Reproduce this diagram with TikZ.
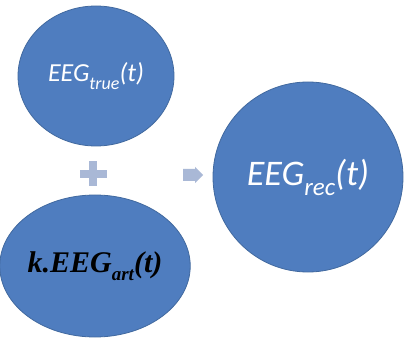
\documentclass[tikz,border=0pt]{standalone}
\usepackage{fontspec}
\usetikzlibrary{shapes.geometric}
\newfontfamily\calfont{Carlito}
\newfontfamily\tmsfont{Liberation Serif}
\definecolor{blobblue}{HTML}{4F7DBF}
\definecolor{blobedge}{HTML}{41699F}
\definecolor{signgrey}{HTML}{A9B8D6}
\tikzset{
  blob/.style={ellipse, fill=blobblue, draw=blobedge, line width=0.8pt, inner sep=0pt},
  signfill/.style={fill=signgrey, draw=none}
}
\begin{document}
\begin{tikzpicture}[x=1pt,y=1pt]
\useasboundingbox[fill=white] (0,0) rectangle (404,343);
\node[blob, minimum width=156pt, minimum height=140pt, text=white] (true) at (96,267)
  {\calfont\itshape\fontsize{26}{30}\selectfont EEG\raisebox{-0.28em}{\fontsize{18}{20}\selectfont true}(t)};
\node[blob, minimum width=160pt, minimum height=142pt, text=black] (art) at (95,77)
  {\tmsfont\bfseries\itshape\fontsize{30}{34}\selectfont k.EEG\raisebox{-0.25em}{\fontsize{19}{22}\selectfont art}(t)};
\node[blob, minimum width=190pt, minimum height=190pt, text=white] (rec) at (308,166)
  {\calfont\itshape\fontsize{36}{40}\selectfont EEG\raisebox{-0.28em}{\fontsize{25}{28}\selectfont rec}(t)};
\coordinate (plus) at (93,169);
\fill[signfill] ([xshift=-13.5pt,yshift=-4pt]plus) rectangle ([xshift=13.5pt,yshift=4pt]plus);
\fill[signfill] ([xshift=-4pt,yshift=-12.5pt]plus) rectangle ([xshift=4pt,yshift=12.5pt]plus);
\coordinate (arrow) at (183,168);
\fill[signfill] (arrow) ++(0,-6) -- ++(12,0) -- ++(0,-2) -- ++(8,8) -- ++(-8,8) -- ++(0,-2) -- ++(-12,0) -- cycle;
\end{tikzpicture}
\end{document}
